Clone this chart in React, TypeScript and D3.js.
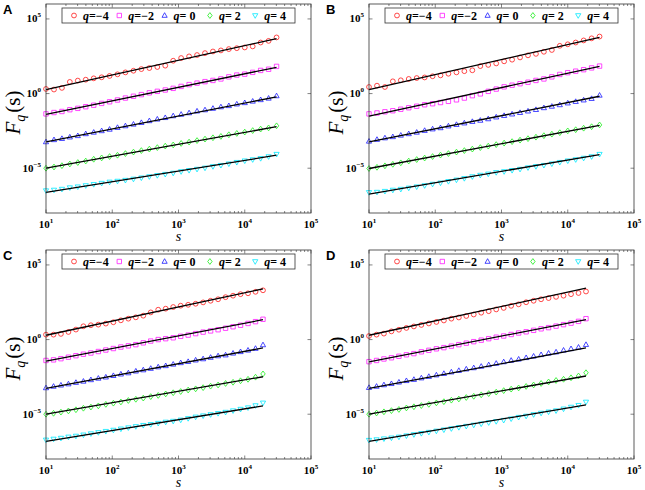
import React, { useEffect, useRef } from 'react';
import * as d3 from 'd3';

// box sizes s (panels A, B and panels C, D)
const sizesAB = [10, 13.2, 17.4, 22.9, 30.2, 39.8, 52.5, 69.2, 91.2, 120, 158, 209, 275, 363, 479, 631, 832, 1096, 1445, 1905, 2512, 3311, 4365, 5754, 7586, 10000, 13183, 17378, 22909, 30200];
const sizesCD = [10, 13, 16.8, 21.8, 28.3, 36.7, 47.6, 61.7, 80, 104, 135, 175, 227, 294, 381, 494, 641, 832, 1079, 1399, 1815, 2354, 3053, 3960, 5136, 6661, 8640, 11206, 14534, 18851];

const qLabels = ['−4', '−2', ' 0', ' 2', ' 4'];
const seriesColors = ['#ff1a1a', '#ff1aff', '#1a1aff', '#1aee1a', '#00e8ff'];
const markerShapes = ['circle', 'square', 'triangleUp', 'diamond', 'triangleDown'];

// log10 Fq(s), panel A
const logA_qm4 = [0.31, 0.27, 0.38, 0.78, 0.87, 0.93, 1.02, 1.09, 1.18, 1.29, 1.42, 1.53, 1.64, 1.71, 1.78, 1.87, 2.20, 2.38, 2.49, 2.58, 2.71, 2.82, 2.89, 2.98, 3.04, 3.09, 3.16, 3.42, 3.53, 3.76];
const logA_qm2 = [-1.36, -1.27, -1.20, -1.08, -0.99, -0.88, -0.78, -0.66, -0.55, -0.43, -0.30, -0.18, -0.07, 0.05, 0.15, 0.24, 0.35, 0.48, 0.60, 0.70, 0.80, 0.88, 0.98, 1.12, 1.24, 1.30, 1.42, 1.55, 1.63, 1.82];
const logA_q0 = [-3.24, -3.10, -3.02, -2.92, -2.83, -2.70, -2.60, -2.50, -2.40, -2.28, -2.17, -2.06, -1.95, -1.83, -1.72, -1.62, -1.50, -1.40, -1.30, -1.18, -1.10, -1.00, -0.90, -0.82, -0.71, -0.62, -0.52, -0.42, -0.32, -0.16];
const logA_q2 = [-5.00, -4.92, -4.83, -4.72, -4.62, -4.52, -4.40, -4.31, -4.22, -4.13, -4.02, -3.92, -3.82, -3.72, -3.62, -3.52, -3.44, -3.34, -3.25, -3.15, -3.05, -2.96, -2.87, -2.76, -2.67, -2.58, -2.48, -2.38, -2.30, -2.16];
const logA_q4 = [-6.50, -6.46, -6.40, -6.30, -6.24, -6.16, -6.08, -6.00, -5.92, -5.86, -5.80, -5.72, -5.64, -5.56, -5.48, -5.40, -5.32, -5.22, -5.14, -5.06, -4.98, -4.88, -4.80, -4.70, -4.60, -4.50, -4.42, -4.34, -4.22, -4.06];

// panel B
const logB_qm4 = [0.44, 0.53, 0.44, 0.82, 0.89, 0.98, 1.04, 1.08, 1.16, 1.22, 1.33, 1.42, 1.50, 1.56, 1.84, 1.92, 2.02, 2.16, 2.27, 2.42, 2.56, 2.66, 2.80, 2.92, 3.20, 3.30, 3.42, 3.56, 3.70, 3.82];
const logB_qm2 = [-1.36, -1.30, -1.22, -1.15, -1.05, -0.95, -0.85, -0.75, -0.68, -0.60, -0.52, -0.42, -0.30, -0.14, -0.02, 0.15, 0.30, 0.45, 0.56, 0.66, 0.76, 0.88, 0.98, 1.12, 1.28, 1.40, 1.50, 1.60, 1.72, 1.84];
const logB_q0 = [-3.20, -3.08, -2.98, -2.90, -2.80, -2.70, -2.60, -2.48, -2.38, -2.30, -2.18, -2.08, -1.98, -1.88, -1.80, -1.70, -1.58, -1.48, -1.38, -1.28, -1.18, -1.08, -0.96, -0.86, -0.76, -0.64, -0.54, -0.44, -0.34, -0.12];
const logB_q2 = [-5.02, -4.94, -4.84, -4.74, -4.64, -4.52, -4.42, -4.32, -4.22, -4.12, -4.02, -3.92, -3.82, -3.72, -3.62, -3.52, -3.42, -3.32, -3.22, -3.12, -3.02, -2.92, -2.82, -2.72, -2.62, -2.50, -2.42, -2.32, -2.22, -2.10];
const logB_q4 = [-6.62, -6.60, -6.54, -6.46, -6.40, -6.32, -6.24, -6.16, -6.06, -5.98, -5.88, -5.78, -5.68, -5.56, -5.46, -5.38, -5.28, -5.22, -5.14, -5.06, -4.96, -4.88, -4.80, -4.70, -4.60, -4.50, -4.42, -4.32, -4.22, -4.06];

// panel C
const logC_qm4 = [0.33, 0.33, 0.38, 0.51, 0.67, 0.89, 0.96, 1.00, 1.07, 1.16, 1.29, 1.40, 1.49, 1.60, 1.82, 2.00, 2.07, 2.18, 2.27, 2.33, 2.40, 2.49, 2.60, 2.70, 2.84, 2.94, 3.04, 3.10, 3.20, 3.30];
const logC_qm2 = [-1.40, -1.36, -1.28, -1.18, -1.08, -0.98, -0.90, -0.80, -0.70, -0.60, -0.50, -0.42, -0.34, -0.22, -0.10, 0.00, 0.06, 0.12, 0.22, 0.30, 0.40, 0.50, 0.58, 0.66, 0.76, 0.86, 0.96, 1.08, 1.20, 1.36];
const logC_q0 = [-3.24, -3.14, -3.06, -2.98, -2.88, -2.80, -2.70, -2.60, -2.52, -2.42, -2.32, -2.24, -2.12, -2.04, -1.94, -1.84, -1.76, -1.66, -1.56, -1.48, -1.38, -1.30, -1.20, -1.10, -1.04, -0.92, -0.82, -0.72, -0.60, -0.36];
const logC_q2 = [-5.00, -4.94, -4.86, -4.78, -4.70, -4.60, -4.52, -4.44, -4.34, -4.26, -4.18, -4.08, -4.00, -3.92, -3.82, -3.74, -3.64, -3.56, -3.48, -3.38, -3.30, -3.22, -3.12, -3.04, -2.94, -2.86, -2.76, -2.66, -2.52, -2.30];
const logC_q4 = [-6.72, -6.66, -6.60, -6.52, -6.46, -6.38, -6.30, -6.22, -6.14, -6.06, -5.98, -5.90, -5.82, -5.74, -5.68, -5.60, -5.52, -5.46, -5.38, -5.28, -5.18, -5.10, -5.02, -4.94, -4.86, -4.76, -4.66, -4.56, -4.42, -4.24];

// panel D
const logD_qm4 = [0.24, 0.33, 0.40, 0.55, 0.66, 0.78, 0.88, 0.98, 1.08, 1.18, 1.28, 1.40, 1.48, 1.58, 1.68, 1.80, 1.90, 2.02, 2.12, 2.26, 2.36, 2.50, 2.60, 2.70, 2.78, 2.86, 2.94, 3.04, 3.12, 3.22];
const logD_qm2 = [-1.48, -1.40, -1.30, -1.22, -1.12, -1.02, -0.94, -0.82, -0.72, -0.62, -0.54, -0.44, -0.34, -0.24, -0.14, -0.04, 0.06, 0.16, 0.24, 0.34, 0.44, 0.52, 0.62, 0.72, 0.80, 0.90, 1.00, 1.10, 1.22, 1.40];
const logD_q0 = [-3.22, -3.14, -3.04, -2.96, -2.86, -2.76, -2.68, -2.58, -2.48, -2.38, -2.28, -2.18, -2.08, -1.98, -1.90, -1.80, -1.70, -1.60, -1.50, -1.40, -1.32, -1.22, -1.12, -1.02, -0.92, -0.84, -0.72, -0.62, -0.52, -0.34];
const logD_q2 = [-5.00, -4.92, -4.84, -4.76, -4.68, -4.58, -4.50, -4.42, -4.34, -4.24, -4.16, -4.06, -3.98, -3.88, -3.80, -3.70, -3.62, -3.52, -3.42, -3.32, -3.24, -3.14, -3.04, -2.94, -2.84, -2.74, -2.66, -2.56, -2.44, -2.22];
const logD_q4 = [-6.74, -6.70, -6.64, -6.58, -6.52, -6.44, -6.36, -6.28, -6.20, -6.12, -6.04, -5.96, -5.88, -5.80, -5.72, -5.64, -5.56, -5.48, -5.40, -5.30, -5.20, -5.12, -5.02, -4.92, -4.84, -4.76, -4.64, -4.52, -4.40, -4.18];

// fitted lines: log10 Fq at first and last s
const fitA = [[0.27, 3.68], [-1.40, 1.76], [-3.24, -0.22], [-5.00, -2.22], [-6.62, -4.13]];
const fitB = [[0.27, 3.76], [-1.51, 1.82], [-3.24, -0.18], [-5.02, -2.13], [-6.73, -4.09]];
const fitC = [[0.29, 3.40], [-1.44, 1.33], [-3.27, -0.56], [-5.00, -2.49], [-6.82, -4.44]];
const fitD = [[0.29, 3.44], [-1.49, 1.33], [-3.27, -0.56], [-5.00, -2.44], [-6.82, -4.38]];

const xTickExps = [1, 2, 3, 4, 5];
const yTickExps = [5, 0, -5];

const panels = [
  { letter: 'A', sizes: sizesAB, series: [logA_qm4, logA_qm2, logA_q0, logA_q2, logA_q4], fits: fitA },
  { letter: 'B', sizes: sizesAB, series: [logB_qm4, logB_qm2, logB_q0, logB_q2, logB_q4], fits: fitB },
  { letter: 'C', sizes: sizesCD, series: [logC_qm4, logC_qm2, logC_q0, logC_q2, logC_q4], fits: fitC },
  { letter: 'D', sizes: sizesCD, series: [logD_qm4, logD_qm2, logD_q0, logD_q2, logD_q4], fits: fitD },
];

const markerPath = (shape: string, cx: number, cy: number) => {
  const p = d3.path();
  if (shape === 'circle') {
    p.moveTo(cx + 2.4, cy);
    p.arc(cx, cy, 2.4, 0, Math.PI * 2);
  } else if (shape === 'square') {
    p.rect(cx - 2.2, cy - 2.2, 4.4, 4.4);
  } else if (shape === 'triangleUp') {
    p.moveTo(cx, cy - 2.8);
    p.lineTo(cx + 2.6, cy + 1.8);
    p.lineTo(cx - 2.6, cy + 1.8);
    p.closePath();
  } else if (shape === 'triangleDown') {
    p.moveTo(cx, cy + 2.8);
    p.lineTo(cx + 2.6, cy - 1.8);
    p.lineTo(cx - 2.6, cy - 1.8);
    p.closePath();
  } else {
    p.moveTo(cx, cy - 2.9);
    p.lineTo(cx + 2.2, cy);
    p.lineTo(cx, cy + 2.9);
    p.lineTo(cx - 2.2, cy);
    p.closePath();
  }
  return p.toString();
};

const App = () => {
  const chartRef = useRef(null);

  useEffect(() => {
    const width = 265;
    const height = 209;
    const origins = [[46, 4], [369, 4], [46, 250], [369, 250]];
    const serif = "'Liberation Serif', 'DejaVu Serif', serif";

    d3.select(chartRef.current).selectAll('*').remove();

    const root = d3
      .select(chartRef.current)
      .append('svg')
      .attr('width', 645)
      .attr('height', 490)
      .style('position', 'absolute')
      .style('left', '0px')
      .style('top', '0px')
      .style('background', '#fff');

    panels.forEach((panel, pi) => {
      const [ox, oy] = origins[pi];
      const g = root.append('g').attr('transform', `translate(${ox},${oy})`);

      const x = d3.scaleLog().domain([10, 1e5]).range([0, width]);
      const y = d3.scaleLog().domain([1e-8, 1e6]).range([height, 0]);

      // panel letter
      root
        .append('text')
        .attr('x', ox - 43)
        .attr('y', oy + 10)
        .style('font-family', "'Liberation Sans', Arial, sans-serif")
        .style('font-weight', 'bold')
        .style('font-size', '13px')
        .text(panel.letter);

      g.append('rect')
        .attr('width', width)
        .attr('height', height)
        .attr('fill', '#fff');

      // x ticks (major + minor), top and bottom, pointing inwards
      const minor: number[] = [];
      for (let e = 1; e < 5; e++) {
        for (let m = 2; m <= 9; m++) minor.push(m * Math.pow(10, e));
      }
      minor.forEach(v => {
        [[height, height - 2], [0, 2]].forEach(([a, b]) => {
          g.append('line')
            .attr('x1', x(v)).attr('x2', x(v))
            .attr('y1', a).attr('y2', b)
            .attr('stroke', '#333').attr('stroke-width', 0.6);
        });
      });
      xTickExps.forEach(e => {
        const v = Math.pow(10, e);
        [[height, height - 3.5], [0, 3.5]].forEach(([a, b]) => {
          g.append('line')
            .attr('x1', x(v)).attr('x2', x(v))
            .attr('y1', a).attr('y2', b)
            .attr('stroke', '#333').attr('stroke-width', 0.6);
        });
        const t = g.append('text')
          .attr('x', x(v))
          .attr('y', height + 15)
          .attr('text-anchor', 'middle')
          .style('font-family', serif)
          .style('font-weight', 'bold')
          .style('font-size', '11px');
        t.append('tspan').text('10');
        t.append('tspan').attr('dy', -5).style('font-size', '7px').text(String(e));
      });

      yTickExps.forEach(e => {
        const v = Math.pow(10, e);
        [[0, 3.5], [width, width - 3.5]].forEach(([a, b]) => {
          g.append('line')
            .attr('x1', a).attr('x2', b)
            .attr('y1', y(v)).attr('y2', y(v))
            .attr('stroke', '#333').attr('stroke-width', 0.6);
        });
        const t = g.append('text')
          .attr('x', -5)
          .attr('y', y(v) + 3.5)
          .attr('text-anchor', 'end')
          .style('font-family', serif)
          .style('font-weight', 'bold')
          .style('font-size', '11px');
        t.append('tspan').text('10');
        t.append('tspan').attr('dy', -5).style('font-size', '7px').text(e < 0 ? `−${-e}` : String(e));
      });

      // markers
      panel.series.forEach((vals, si) => {
        g.append('g')
          .selectAll('path')
          .data(vals)
          .enter()
          .append('path')
          .attr('d', (d, i) => markerPath(markerShapes[si], x(panel.sizes[i]), y(Math.pow(10, d))))
          .attr('fill', 'none')
          .attr('stroke', seriesColors[si])
          .attr('stroke-width', 0.8);
      });

      // fitted lines
      const line = d3.line<[number, number]>()
        .x(d => x(d[0]))
        .y(d => y(Math.pow(10, d[1])));
      panel.fits.forEach(f => {
        const s0 = panel.sizes[0];
        const s1 = panel.sizes[panel.sizes.length - 1];
        g.append('path')
          .attr('d', line([[s0, f[0]], [s1, f[1]]]))
          .attr('fill', 'none')
          .attr('stroke', '#000')
          .attr('stroke-width', 1.3);
      });

      // axes box
      g.append('rect')
        .attr('width', width)
        .attr('height', height)
        .attr('fill', 'none')
        .attr('stroke', '#333')
        .attr('stroke-width', 0.8);

      // legend
      const lx = 16;
      const ly = 4;
      const legend = g.append('g').attr('transform', `translate(${lx},${ly})`);
      legend.append('rect')
        .attr('width', 233)
        .attr('height', 15)
        .attr('fill', '#fff')
        .attr('stroke', '#333')
        .attr('stroke-width', 0.8);
      qLabels.forEach((lab, i) => {
        const cx = 12 + i * 45.3;
        legend.append('path')
          .attr('d', markerPath(markerShapes[i], cx, 7.5))
          .attr('fill', 'none')
          .attr('stroke', seriesColors[i])
          .attr('stroke-width', 0.8);
        const t = legend.append('text')
          .attr('x', cx + 9)
          .attr('y', 11.5)
          .attr('xml:space', 'preserve')
          .style('font-family', serif)
          .style('font-weight', 'bold')
          .style('font-size', '12px')
          .style('white-space', 'pre');
        t.append('tspan').style('font-style', 'italic').text('q');
        t.append('tspan').text(`=${lab}`);
      });

      // axis labels
      g.append('text')
        .attr('x', width / 2)
        .attr('y', height + 27.5)
        .attr('text-anchor', 'middle')
        .style('font-family', serif)
        .style('font-style', 'italic')
        .style('font-size', '14px')
        .text('s');

      const yl = g.append('text')
        .attr('transform', `translate(-26,${height / 2 + 4}) rotate(-90)`)
        .attr('text-anchor', 'middle')
        .style('font-family', serif)
        .style('font-size', '21px');
      yl.append('tspan').style('font-style', 'italic').text('F');
      yl.append('tspan').attr('dy', 5).style('font-style', 'italic').style('font-size', '14px').text('q');
      yl.append('tspan').attr('dy', -5).attr('dx', 2).text('(s)');
    });
  }, []);

  return <div ref={chartRef}></div>;
};

export default App;
